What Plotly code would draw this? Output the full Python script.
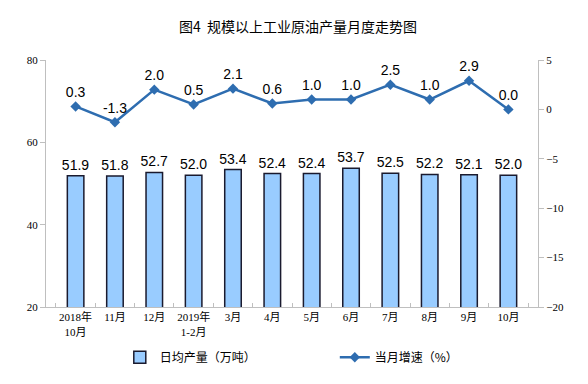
import plotly.graph_objects as go

categories = ["2018年<br>10月", "11月", "12月", "2019年<br>1-2月", "3月", "4月", "5月", "6月", "7月", "8月", "9月", "10月"]
daily_output = [51.9, 51.8, 52.7, 52.0, 53.4, 52.4, 52.4, 53.7, 52.5, 52.2, 52.1, 52.0]
growth = [0.3, -1.3, 2.0, 0.5, 2.1, 0.6, 1.0, 1.0, 2.5, 1.0, 2.9, 0.0]

label_font = dict(family="Liberation Sans, Arial, sans-serif", size=14, color="#000000")
tick_font = dict(family="Liberation Serif, Noto Sans CJK SC, serif", size=11, color="#000000")

fig = go.Figure()
fig.add_trace(go.Bar(
    x=categories, y=daily_output, name="日均产量（万吨）",
    marker=dict(color="#99CCFF", line=dict(color="#1a1a2e", width=1.5)),
    width=0.42,
    text=[f"{v:.1f}" for v in daily_output], textposition="outside",
    textfont=label_font, cliponaxis=False, constraintext="none",
))
fig.add_trace(go.Scatter(
    x=categories, y=growth, name="当月增速（%）", yaxis="y2",
    mode="lines+markers+text",
    line=dict(color="#2E6DB0", width=2.5),
    marker=dict(symbol="diamond", size=8, color="#2E6DB0"),
    text=[f"{v:.1f}" for v in growth], textposition="top center",
    textfont=label_font, cliponaxis=False,
))

fig.update_layout(
    width=580, height=376,
    margin=dict(l=38, r=50, t=52, b=74),
    paper_bgcolor="white", plot_bgcolor="white",
    title=dict(text="图4  规模以上工业原油产量月度走势图", x=0.5, xanchor="center", y=0.949, yanchor="middle",
               yref="container",
               font=dict(family="Noto Sans CJK SC, sans-serif", size=14, color="#000000")),
    showlegend=True,
    legend=dict(orientation="h", x=0.15, xanchor="left", y=-0.145, yanchor="top",
                bgcolor="rgba(0,0,0,0)",
                font=dict(family="Noto Sans CJK SC, sans-serif", size=12, color="#000000"),
                itemwidth=30, tracegroupgap=0, entrywidth=170),
    xaxis=dict(showline=True, linecolor="#bfbfbf", linewidth=1, ticks="inside", ticklen=4,
               tickcolor="#bfbfbf", tickson="boundaries", tickfont=tick_font, showgrid=False,
               tickangle=0, automargin=False),
    yaxis=dict(range=[20, 80], dtick=20, showline=True, linecolor="#bfbfbf", linewidth=1,
               ticks="outside", ticklen=5, tickcolor="#bfbfbf", tickfont=tick_font, showgrid=False,
               zeroline=False, automargin=False),
    yaxis2=dict(range=[-20, 5], dtick=5, overlaying="y", side="right", showline=True,
                linecolor="#bfbfbf", linewidth=1, ticks="outside", ticklen=5, tickcolor="#bfbfbf",
                tickfont=tick_font, showgrid=False, zeroline=False, automargin=False),
    bargap=0.5,
)

fig.write_html("out.html")
